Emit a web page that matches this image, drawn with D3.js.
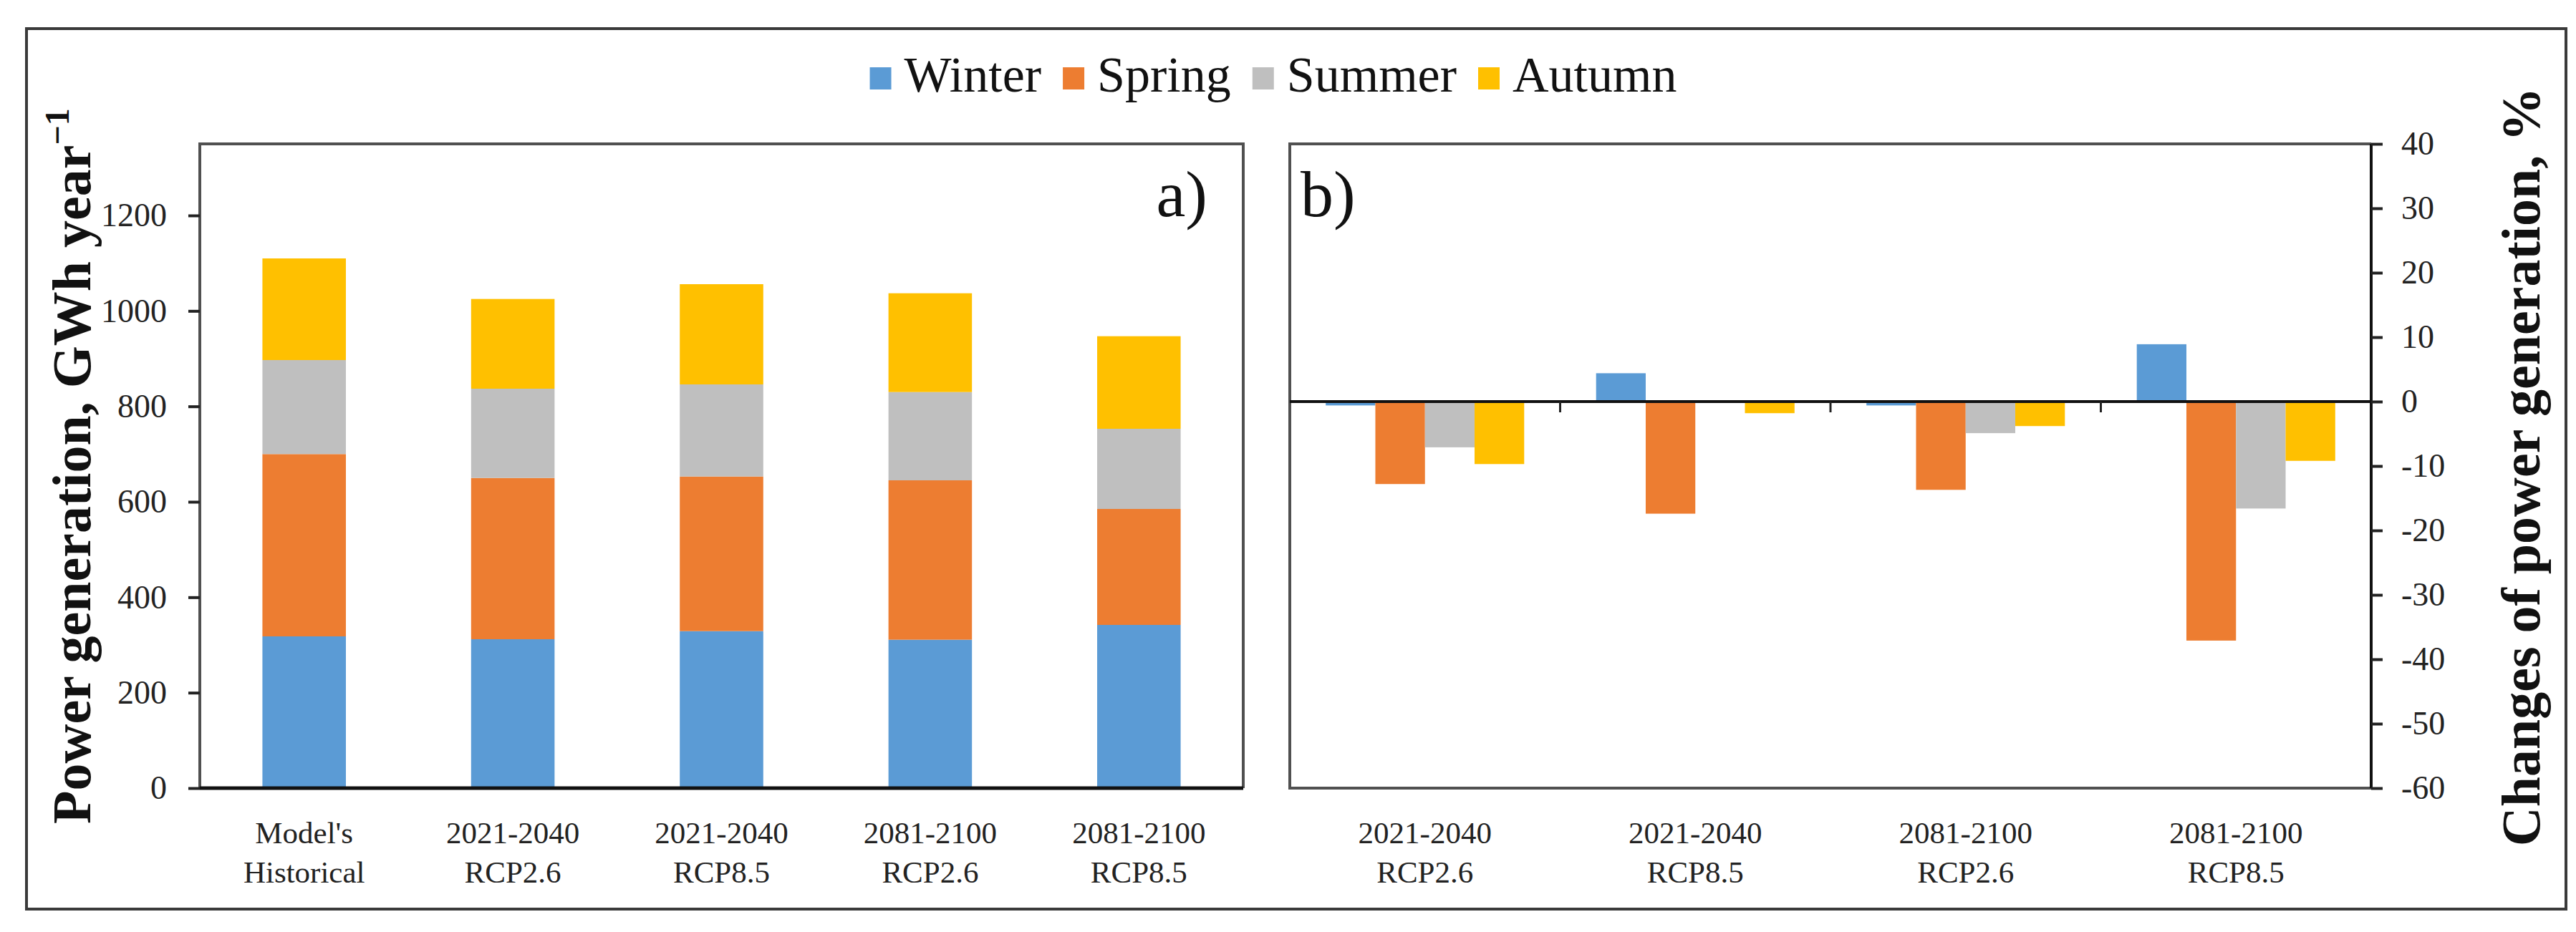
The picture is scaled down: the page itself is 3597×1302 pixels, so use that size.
<!DOCTYPE html>
<html><head><meta charset="utf-8">
<script src="https://cdn.jsdelivr.net/npm/d3@7"></script>
<style>
body{margin:0;background:#fff}
svg{display:block}
text{font-family:"Liberation Serif","Times New Roman",serif}
</style>
</head><body>
<svg id="c" width="3597" height="1302"></svg>
<script>
// ---------- data ----------
const seasons = ["Winter", "Spring", "Summer", "Autumn"];
const seasonColors = ["#5B9BD5", "#ED7D31", "#BFBFBF", "#FFC000"];
const categoriesA = ["Model's|Historical", "2021-2040|RCP2.6", "2021-2040|RCP8.5", "2081-2100|RCP2.6", "2081-2100|RCP8.5"];
const categoriesB = ["2021-2040|RCP2.6", "2021-2040|RCP8.5", "2081-2100|RCP2.6", "2081-2100|RCP8.5"];
// panel a: GWh per season (stacked)
const winterA = [318, 312, 329, 311, 342];
const springA = [382, 338, 324, 334, 243];
const summerA = [197, 187, 193, 185, 168];
const autumnA = [213, 188, 210, 207, 194];
// panel b: change, %
const winterB = [-0.6, 4.4, -0.6, 8.9];
const springB = [-12.8, -17.4, -13.7, -37.1];
const summerB = [-7.1, 0, -4.9, -16.6];
const autumnB = [-9.7, -1.8, -3.8, -9.2];
const ticksA = [0, 200, 400, 600, 800, 1000, 1200];
const ticksB = [40, 30, 20, 10, 0, -10, -20, -30, -40, -50, -60];
const titleA = "Power generation, GWh year";
const titleB = "Changes of power generation, %";

// ---------- layout ----------
const svg = d3.select("#c");
const frameColor = "#505050";
const A = {l: 279, r: 1736, t: 201, b: 1101};
const B = {l: 1801, r: 3311, t: 201, b: 1101};

// outer border
svg.append("rect").attr("x", 37).attr("y", 40).attr("width", 3583 - 37).attr("height", 1270 - 40)
  .attr("fill", "none").attr("stroke", "#3a3a3a").attr("stroke-width", 4);

// ---------- legend ----------
const legend = svg.append("g");
let lx = 0;
seasons.forEach((s, i) => {
  const g = legend.append("g").attr("transform", `translate(${lx},0)`);
  g.append("rect").attr("x", 0).attr("y", 94).attr("width", 30).attr("height", 31).attr("fill", seasonColors[i]);
  const t = g.append("text").attr("x", 48).attr("y", 128).attr("font-size", 70).attr("fill", "#111").text(s);
  lx += 48 + t.node().getComputedTextLength() + 30;
});
legend.attr("transform", `translate(${1778 - (lx - 30) / 2},0)`);

// ---------- panel a ----------
const xA = d3.scaleBand().domain(categoriesA).range([A.l, A.r]).paddingInner(0.6).paddingOuter(0.3);
const yA = d3.scaleLinear().domain([0, 1350]).range([A.b, A.t]);
const rowsA = categoriesA.map((c, i) => ({cat: c, Winter: winterA[i], Spring: springA[i], Summer: summerA[i], Autumn: autumnA[i]}));
const stackA = d3.stack().keys(seasons)(rowsA);
svg.append("g").selectAll("g").data(stackA).join("g")
  .attr("fill", (d, i) => seasonColors[i])
  .selectAll("rect").data(d => d).join("rect")
  .attr("x", d => xA(d.data.cat)).attr("width", xA.bandwidth())
  .attr("y", d => yA(d[1])).attr("height", d => yA(d[0]) - yA(d[1]));

// frame a
svg.append("path").attr("d", `M${A.l},${A.b}V${A.t}H${A.r}V${A.b}`).attr("fill", "none")
  .attr("stroke", frameColor).attr("stroke-width", 4);
svg.append("line").attr("x1", A.l).attr("x2", A.r).attr("y1", A.b).attr("y2", A.b)
  .attr("stroke", "#111").attr("stroke-width", 5);

const axA = svg.append("g").attr("transform", `translate(${A.l},0)`)
  .call(d3.axisLeft(yA).tickValues(ticksA).tickSize(16).tickPadding(30).tickFormat(d => String(d)));
axA.select(".domain").remove();
axA.selectAll(".tick line").attr("stroke", "#222").attr("stroke-width", 4);
axA.selectAll(".tick text").attr("font-size", 46).attr("fill", "#222").attr("font-family", "Liberation Serif");

// x labels a
const xlabA = svg.append("g").selectAll("text").data(categoriesA).join("text")
  .attr("text-anchor", "middle").attr("font-size", 43).attr("fill", "#222")
  .attr("transform", d => `translate(${xA(d) + xA.bandwidth() / 2},0)`);
xlabA.each(function(d) {
  const parts = d.split("|");
  d3.select(this).selectAll("tspan").data(parts).join("tspan")
    .attr("x", 0).attr("y", (p, j) => 1178 + j * 55).text(p => p);
});

// panel label a
svg.append("text").attr("x", 1686).attr("y", 302).attr("text-anchor", "end")
  .attr("font-size", 92).attr("fill", "#111").text("a)");

// title a
const tA = svg.append("text").attr("transform", "translate(126,651) rotate(-90)")
  .attr("text-anchor", "middle").attr("font-size", 76).attr("font-weight", "bold").attr("fill", "#111");
tA.append("tspan").text(titleA);
tA.append("tspan").attr("dy", -30).attr("font-size", 48).text("\u22121");

// ---------- panel b ----------
const xB0 = d3.scaleBand().domain(categoriesB).range([B.l, B.r]).paddingInner(0.266).paddingOuter(0.133);
const xB1 = d3.scaleBand().domain(seasons).range([0, xB0.bandwidth()]);
const yB = d3.scaleLinear().domain([-60, 40]).range([B.b, B.t]);
const seriesB = [winterB, springB, summerB, autumnB];
const cellsB = [];
categoriesB.forEach((c, i) => seasons.forEach((s, j) => cellsB.push({cat: c, season: s, v: seriesB[j][i], k: j})));
svg.append("g").selectAll("rect").data(cellsB).join("rect")
  .attr("x", d => xB0(d.cat) + xB1(d.season)).attr("width", xB1.bandwidth())
  .attr("y", d => yB(Math.max(0, d.v))).attr("height", d => Math.abs(yB(d.v) - yB(0)))
  .attr("fill", d => seasonColors[d.k]);

// frame b
svg.append("path").attr("d", `M${B.r},${B.t}H${B.l}V${B.b}H${B.r}`).attr("fill", "none")
  .attr("stroke", frameColor).attr("stroke-width", 4);
svg.append("line").attr("x1", B.r).attr("x2", B.r).attr("y1", B.t).attr("y2", B.b)
  .attr("stroke", "#111").attr("stroke-width", 4);

// zero line with category tick marks
svg.append("line").attr("x1", B.l).attr("x2", B.r).attr("y1", yB(0)).attr("y2", yB(0))
  .attr("stroke", "#111").attr("stroke-width", 4);
const step = xB0.step();
svg.append("g").selectAll("line").data(categoriesB.slice(1)).join("line")
  .attr("x1", d => xB0(d) - xB0.paddingInner() * step / 2).attr("x2", d => xB0(d) - xB0.paddingInner() * step / 2)
  .attr("y1", yB(0)).attr("y2", yB(0) + 15).attr("stroke", "#222").attr("stroke-width", 3);

const axB = svg.append("g").attr("transform", `translate(${B.r},0)`)
  .call(d3.axisRight(yB).tickValues(ticksB).tickSize(16).tickPadding(26).tickFormat(d => String(d)));
axB.select(".domain").remove();
axB.selectAll(".tick line").attr("stroke", "#222").attr("stroke-width", 4);
axB.selectAll(".tick text").attr("font-size", 46).attr("fill", "#222").attr("font-family", "Liberation Serif");

// x labels b
const xlabB = svg.append("g").selectAll("text").data(categoriesB).join("text")
  .attr("text-anchor", "middle").attr("font-size", 43).attr("fill", "#222")
  .attr("transform", d => `translate(${xB0(d) + xB0.bandwidth() / 2},0)`);
xlabB.each(function(d) {
  const parts = d.split("|");
  d3.select(this).selectAll("tspan").data(parts).join("tspan")
    .attr("x", 0).attr("y", (p, j) => 1178 + j * 55).text(p => p);
});

// panel label b
svg.append("text").attr("x", 1816).attr("y", 302).attr("font-size", 92).attr("fill", "#111").text("b)");

// title b
svg.append("text").attr("transform", "translate(3546,652) rotate(-90)")
  .attr("text-anchor", "middle").attr("font-size", 76).attr("font-weight", "bold").attr("fill", "#111")
  .text(titleB);
</script>
</body></html>
